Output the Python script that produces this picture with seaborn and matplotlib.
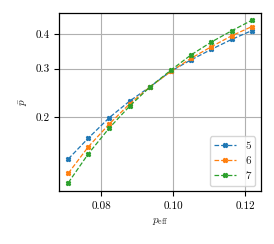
import numpy as np
import pandas as pd
import matplotlib
matplotlib.use("Agg")
import matplotlib.pyplot as plt
from matplotlib.ticker import FixedLocator, FormatStrFormatter, NullLocator
import seaborn as sns

p_eff = [0.0708, 0.0764, 0.0822, 0.0879, 0.0936, 0.0994, 0.1049, 0.1106, 0.1163, 0.1218]
p5 = [0.1412, 0.1682, 0.1994, 0.2292, 0.2583, 0.2944, 0.3228, 0.3528, 0.3836, 0.4123]
p6 = [0.1253, 0.1565, 0.1891, 0.2241, 0.2583, 0.2936, 0.3272, 0.3607, 0.3954, 0.4263]
p7 = [0.1158, 0.1476, 0.1829, 0.2198, 0.2583, 0.2969, 0.3365, 0.3751, 0.4123, 0.4495]
sizes = ["5", "6", "7"]

df = pd.DataFrame({"p_eff": p_eff * 3,
                   "p_bar": p5 + p6 + p7,
                   "L": sum([[s] * len(p_eff) for s in sizes], [])})

sns.set_style("ticks")
plt.rcParams['font.family'] = ['serif']
plt.rcParams['font.serif'] = ['cmr10', 'DejaVu Serif']
plt.rcParams['mathtext.fontset'] = 'cm'
plt.rcParams['axes.formatter.use_mathtext'] = True
plt.rcParams['font.size'] = 8

fig, ax = plt.subplots(figsize=(2.74, 2.44), dpi=100)
colors = sns.color_palette("tab10", 3)
for i, s in enumerate(sizes):
    sub = df[df["L"] == s]
    ax.plot(sub["p_eff"], sub["p_bar"], ls="--", marker="X", ms=3, lw=0.9,
            color=colors[i], label=s)

ax.set_yscale("log")
ax.set_xlim(0.0683, 0.1243)
ax.set_ylim(0.1078, 0.479)
ax.yaxis.set_major_locator(FixedLocator([0.2, 0.3, 0.4]))
ax.yaxis.set_major_formatter(FormatStrFormatter("%.1f"))
ax.yaxis.set_minor_locator(NullLocator())
ax.set_xticks([0.08, 0.10, 0.12])
ax.xaxis.set_major_formatter(FormatStrFormatter("%.2f"))
ax.grid(True, color="#b0b0b0", lw=0.8)
for sp in ax.spines.values():
    sp.set_color("black")
    sp.set_linewidth(0.9)
ax.tick_params(labelsize=8, length=3.5, width=0.8, colors="black")
ax.set_xlabel(r"$p_{\mathrm{eff}}$", fontsize=8)
ax.set_ylabel(r"$\bar{p}$", fontsize=8)
ax.legend(loc="lower right", fontsize=8, fancybox=True, framealpha=0.8)

plt.subplots_adjust(left=0.2164, right=0.9515, top=0.948, bottom=0.216)
plt.savefig("out.png", dpi=100)
